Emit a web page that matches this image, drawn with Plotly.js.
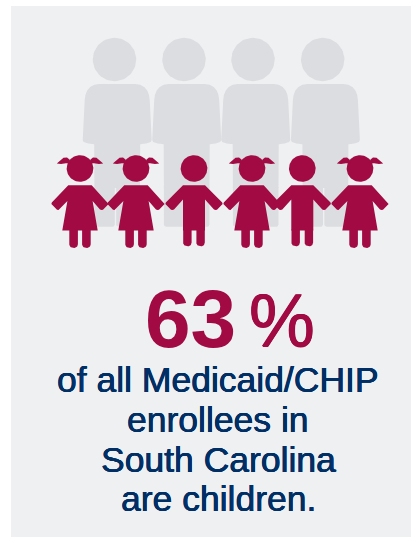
<!DOCTYPE html>
<html><head><meta charset="utf-8">
<script src="https://cdn.plot.ly/plotly-3.0.1.min.js"></script>
<style>html,body{margin:0;padding:0;background:#fff}#c{width:411px;height:537px}</style>
</head><body><div id="c"></div>
<script>
// values
var sharePercent = [63];
var adultCenters = [114.5, 184, 253, 322.7];
var childCenters = [80, 136, 194, 252, 302.3, 360];
var childKinds = ['girl','girl','boy','girl','boy','girl'];
var captionLines = ['of all Medicaid/CHIP','enrollees in','South Carolina','are children.'];
var captionBaselines = [392.7, 432.5, 472.7, 512];

var PANEL='#eff0f2', GREY='#dcdde0', RED='#a10a42', NAVY='#002f65';
var traces=[];
function poly(xs,ys,color){traces.push({type:'scatter',mode:'lines',x:xs.concat(xs[0]),y:ys.concat(ys[0]),fill:'toself',fillcolor:color,line:{width:0,color:color},hoverinfo:'skip',showlegend:false});}
function pts(list,color,cx,cy){poly(list.map(function(p){return cx+p[0]}),list.map(function(p){return cy+p[1]}),color);}
function circle(cx,cy,r,color){var a=[];for(var i=0;i<64;i++){var t=i/64*2*Math.PI;a.push([r*Math.cos(t),r*Math.sin(t)]);}pts(a,color,cx,cy);}
function leg(x0,x1,y0,y1,r,color){var a=[[x0,y0],[x1,y0]];
  for(var i=0;i<=8;i++){var t=i/8*Math.PI/2;a.push([x1-r+r*Math.cos(t),y1-r+r*Math.sin(t)]);}
  for(i=0;i<=8;i++){t=Math.PI/2+i/8*Math.PI/2;a.push([x0+r+r*Math.cos(t),y1-r+r*Math.sin(t)]);}
  pts(a,color,0,0);}

poly([11,411,411,11],[6,6,537,537],PANEL);

adultCenters.forEach(function(hx){
  var cx=hx+2.7;
  circle(hx,59.5,21.7,GREY);
  var half=[[18,84],[23,84.7],[27,87],[30,90.5],[31.8,95],[32.5,100],[34.5,140],[33.5,142],[29,143.5],[23,144.3]];
  var outline=half.concat([[22.8,188],[-22.8,188]]).concat(half.slice().reverse().map(function(p){return [-p[0],p[1]]}));
  pts(outline,GREY,cx,0);
  leg(cx-22.8,cx-2.4,187,226.8,2.5,GREY);
  leg(cx-1,cx+22.8,187,226.8,2.5,GREY);
});

childCenters.forEach(function(cx,i){
  var cy=168.5, girl=childKinds[i]==='girl';
  circle(cx,cy,13.3,RED);
  var right;
  if(girl){
    right=[[11.7,16.7],[28.2,34],[28.6,35.5],[23,41.2],[21.5,41.6],[20,41],[12.6,32.5],[17.7,61.9]];
  } else {
    right=[[11,16.7],[28.2,34],[28.6,35.5],[23,41.2],[21.5,41.6],[20,41],[11,31],[11,62]];
  }
  var outline=right.concat(right.slice().reverse().map(function(p){return [-p[0],p[1]]}));
  pts(outline,RED,cx,cy);
  var bottom=girl?79.4:77.7, lo=girl?10.7:10.8, li=girl?2.1:2.4;
  leg(cx-lo,cx-li,cy+61,cy+bottom,3.6,RED);
  leg(cx+li,cx+lo,cy+61,cy+bottom,3.6,RED);
  if(girl){
    var tail=[[-23.2,-5],[-20,-8.2],[-16.5,-10.8],[-13,-11],[-10.5,-9],[-9,-5],[-14,-5.2],[-19,-4.6]];
    pts(tail,RED,cx,cy);
    pts(tail.map(function(p){return [-p[0],p[1]]}),RED,cx,cy);
  }
});

function heavier(c,d){return d+'px 0 0 '+c+', -'+d+'px 0 0 '+c+', 0 '+d+'px 0 '+c;}
var annotations=[
 {text:String(sharePercent[0]),x:190,y:346.7,xref:'x',yref:'y',xanchor:'center',yanchor:'bottom',showarrow:false,borderpad:0,yshift:-18,
  font:{family:'Liberation Sans',size:82,color:RED,weight:700}},
 {text:'%',x:281.5,y:346.7,xref:'x',yref:'y',xanchor:'center',yanchor:'bottom',showarrow:false,borderpad:0,yshift:-16,
  font:{family:'Liberation Sans',size:74,color:RED,shadow:heavier(RED,0.5)}}];
captionLines.forEach(function(t,i){annotations.push({text:t,x:218,y:captionBaselines[i],xref:'x',yref:'y',xanchor:'center',yanchor:'bottom',showarrow:false,borderpad:0,yshift:-8,
  font:{family:'Liberation Sans',size:35.5,color:NAVY,shadow:heavier(NAVY,0.3)}});});

Plotly.newPlot('c',traces,{
  width:411,height:537,margin:{l:0,r:0,t:0,b:0},paper_bgcolor:'#fff',plot_bgcolor:'#fff',showlegend:false,
  xaxis:{range:[0,411],visible:false,fixedrange:true},
  yaxis:{range:[537,0],visible:false,fixedrange:true},
  annotations:annotations
},{displayModeBar:false,staticPlot:true});
</script></body></html>
